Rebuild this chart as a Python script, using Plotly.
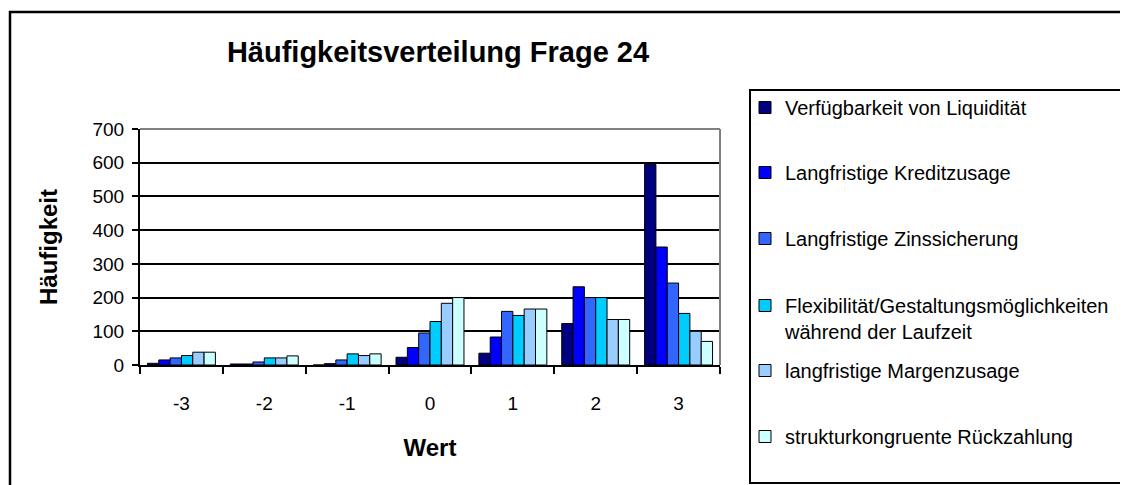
import plotly.graph_objects as go

categories = ["-3", "-2", "-1", "0", "1", "2", "3"]
series_names = [
    "Verfügbarkeit von Liquidität",
    "Langfristige Kreditzusage",
    "Langfristige Zinssicherung",
    "Flexibilität/Gestaltungsmöglichkeiten<br>während der Laufzeit",
    "langfristige Margenzusage",
    "strukturkongruente Rückzahlung",
]
verfuegbarkeit = [5, 3, 0, 23, 35, 123, 595]
kreditzusage = [15, 3, 4, 52, 83, 232, 350]
zinssicherung = [21, 9, 15, 95, 159, 200, 243]
flexibilitaet = [28, 21, 33, 129, 147, 200, 153]
margenzusage = [38, 21, 28, 183, 166, 135, 100]
rueckzahlung = [38, 27, 33, 200, 166, 135, 70]
series_values = [verfuegbarkeit, kreditzusage, zinssicherung, flexibilitaet, margenzusage, rueckzahlung]
colors = ["#000080", "#0000FF", "#3366FF", "#00CCFF", "#99CCFF", "#CCFFFF"]
y_ticks = [0, 100, 200, 300, 400, 500, 600, 700]

# figure is placed by the page with an 8px body margin
W, H = 1120, 477
L, R, T, B = 132, 712, 121, 357
FONT = "Arial, 'Liberation Sans', sans-serif"


def px_x(px):
    return (px - L) / (R - L)


def px_y(py):
    return (B - py) / (B - T)


legend_rows = [100, 165, 231, 298, 363, 429]   # text centre of first line (figure px)
legend_box = dict(x0=742, x1=1117, y0=82, y1=475)
LEG_FS = 20

fig = go.Figure()
for i, (name, vals, col) in enumerate(zip(series_names, series_values, colors)):
    lname = "legend" if i == 0 else f"legend{i + 1}"
    fig.add_trace(go.Bar(
        x=categories, y=vals, name=name, showlegend=True,
        marker=dict(color=col, line=dict(color="black", width=1)),
        legend=lname,
    ))

layout_legends = {}
for i, row in enumerate(legend_rows):
    lname = "legend" if i == 0 else f"legend{i + 1}"
    layout_legends[lname] = dict(
        x=px_x(737), y=px_y(row - LEG_FS), xanchor="left", yanchor="top",
        bgcolor="rgba(0,0,0,0)", borderwidth=0, valign="top", visible=True,
        font=dict(family=FONT, size=LEG_FS, color="black"),
    )

fig.update_layout(
    width=W, height=H, showlegend=True,
    margin=dict(l=L, r=W - R, t=T, b=H - B, pad=0),
    paper_bgcolor="white", plot_bgcolor="white",
    barmode="group", bargap=0.18, bargroupgap=0,
    title=dict(text="<b>Häufigkeitsverteilung Frage 24</b>", x=430 / W, y=1 - 44 / H,
               xanchor="center", yanchor="middle",
               font=dict(family=FONT, size=29, color="black")),
    font=dict(family=FONT, color="black"),
    xaxis=dict(
        type="category", categoryorder="array", categoryarray=categories,
        showline=True, linecolor="black", linewidth=2,
        ticks="outside", ticklen=7, tickwidth=2, tickcolor="black",
        tickson="boundaries", showgrid=False,
        tickfont=dict(family=FONT, size=19, color="black"), ticklabelstandoff=20,
        title=dict(text="<b>Wert</b>", font=dict(family=FONT, size=24, color="black"), standoff=26),
    ),
    yaxis=dict(
        range=[0, 700], tickvals=y_ticks, showline=True, linecolor="black", linewidth=2,
        ticks="outside", ticklen=6, tickwidth=2, tickcolor="black",
        showgrid=True, gridcolor="black", gridwidth=2, zeroline=False,
        tickfont=dict(family=FONT, size=19, color="black"), ticklabelstandoff=4,
        title=dict(text="<b>Häufigkeit</b>", font=dict(family=FONT, size=24, color="black"), standoff=28),
    ),
    shapes=[
        dict(type="line", xref="paper", yref="paper", x0=0, x1=1, y0=1, y1=1,
             line=dict(color="#808080", width=2)),
        dict(type="line", xref="paper", yref="paper", x0=1, x1=1, y0=0, y1=1,
             line=dict(color="#808080", width=2)),
        dict(type="rect", xref="paper", yref="paper",
             x0=px_x(2), x1=px_x(1135), y0=px_y(4), y1=px_y(495),
             line=dict(color="black", width=2.5), fillcolor="rgba(0,0,0,0)"),
        dict(type="rect", xref="paper", yref="paper",
             x0=px_x(legend_box["x0"]), x1=px_x(legend_box["x1"]),
             y0=px_y(legend_box["y0"]), y1=px_y(legend_box["y1"]),
             line=dict(color="black", width=2), fillcolor="rgba(0,0,0,0)"),
    ],
    **layout_legends,
)

fig.write_html("out.html")
